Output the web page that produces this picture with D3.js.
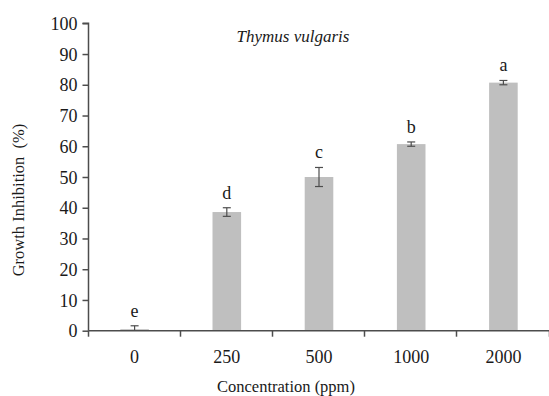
<!DOCTYPE html>
<html><head><meta charset="utf-8">
<script src="https://cdn.jsdelivr.net/npm/d3@7"></script>
<style>body{margin:0;background:#fff}svg{display:block}</style>
</head><body>
<svg id="c" width="549" height="396"></svg>
<script>
const categories = ["0", "250", "500", "1000", "2000"];
const values = [0.5, 38.6, 50.0, 60.7, 80.7];
const errors = [1.1, 1.4, 3.1, 0.7, 0.7];
const letters = ["e", "d", "c", "b", "a"];
const yTicks = [0, 10, 20, 30, 40, 50, 60, 70, 80, 90, 100];

const FONT = "'Liberation Serif', 'Times New Roman', Times, 'DejaVu Serif', serif";
const TXT = "#1a1a1a";
const svg = d3.select("#c").attr("font-family", FONT);
const x = d3.scaleBand().domain(categories).range([88.5, 549.5]).paddingInner(0.69).paddingOuter(0.345);
const xb = d3.scaleBand().domain(categories).range([88.5, 549.5]);
const y = d3.scaleLinear().domain([0, 100]).range([330.7, 23.3]);
const axisColor = "#4d4d4d";

// bars
svg.selectAll("rect.bar").data(values).join("rect")
  .attr("x", (d, i) => x(categories[i]))
  .attr("width", x.bandwidth())
  .attr("y", d => y(d))
  .attr("height", d => y(0) - y(d))
  .attr("fill", "#bfbfbf");

// error bars
const eb = svg.append("g").attr("stroke", axisColor).attr("stroke-width", 1.2);
values.forEach((v, i) => {
  const cx = xb(categories[i]) + xb.bandwidth() / 2;
  const lo = Math.max(0, v - errors[i]), hi = v + errors[i];
  eb.append("line").attr("x1", cx).attr("x2", cx).attr("y1", y(lo)).attr("y2", y(hi));
  eb.append("line").attr("x1", cx - 4).attr("x2", cx + 4).attr("y1", y(hi)).attr("y2", y(hi));
  if (v - errors[i] > 0) eb.append("line").attr("x1", cx - 4).attr("x2", cx + 4).attr("y1", y(lo)).attr("y2", y(lo));
});

// letters
svg.selectAll("text.let").data(letters).join("text")
  .attr("x", (d, i) => xb(categories[i]) + xb.bandwidth() / 2)
  .attr("y", (d, i) => y(values[i] + errors[i]) - 9)
  .attr("text-anchor", "middle")
  .attr("font-size", 18).attr("fill", TXT)
  .text(d => d);

// y axis
const ya = svg.append("g").attr("transform", "translate(88.5,0)")
  .call(d3.axisLeft(y).tickValues(yTicks).tickSize(6).tickPadding(5));
ya.attr("font-family", FONT).attr("font-size", 18);
ya.select(".domain").attr("stroke", axisColor).attr("stroke-width", 1.5).attr("d", `M-6,${y(100)}H0V${y(0)}`);
ya.selectAll(".tick line").attr("stroke", axisColor).attr("stroke-width", 1.5);
ya.selectAll(".tick text").attr("fill", TXT).attr("dy", "0.34em");

// x axis
const xa = svg.append("g").attr("transform", `translate(0,${y(0)})`)
  .call(d3.axisBottom(xb).tickSize(0).tickPadding(20));
xa.attr("font-family", FONT).attr("font-size", 18);
xa.select(".domain").attr("stroke", axisColor).attr("stroke-width", 1.5).attr("d", "M88.5,0H549.5");
xa.selectAll(".tick text").attr("fill", TXT);
const bounds = categories.map(c => xb(c)).concat([xb(categories[categories.length - 1]) + xb.bandwidth()]);
xa.selectAll("line.sep").data(bounds).join("line")
  .attr("x1", d => Math.round(d) - 0.5).attr("x2", d => Math.round(d) - 0.5)
  .attr("y1", 0).attr("y2", 6)
  .attr("stroke", axisColor).attr("stroke-width", 1.5);

// titles
svg.append("text").attr("x", 293).attr("y", 42).attr("text-anchor", "middle").attr("fill", TXT)
  .attr("font-size", 17).attr("font-style", "italic").text("Thymus vulgaris");
svg.append("text").attr("x", 286).attr("y", 391.5).attr("text-anchor", "middle").attr("fill", TXT)
  .attr("font-size", 16.5).text("Concentration (ppm)");
svg.append("text").attr("transform", "translate(24,200) rotate(-90)").attr("text-anchor", "middle").attr("fill", TXT)
  .attr("font-size", 16.5).attr("xml:space", "preserve").style("white-space", "pre").text("Growth Inhibition  (%)");
</script>
</body></html>
